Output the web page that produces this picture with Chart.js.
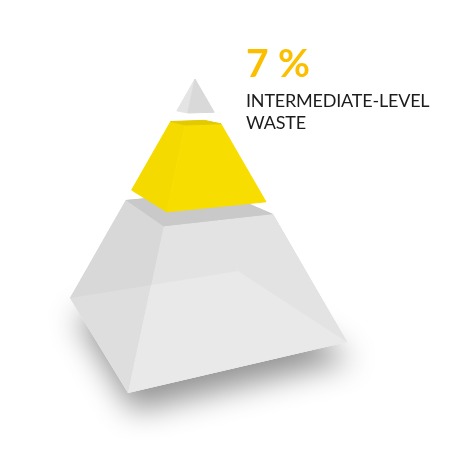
<!DOCTYPE html>
<html>
<head>
<meta charset="utf-8">
<script src="https://cdn.jsdelivr.net/npm/chart.js@4.4.1/dist/chart.umd.min.js"></script>
<style>
  body { margin: 0; background: #fff; }
  #wrap { position: relative; width: 454px; height: 454px; }
  #label { position: absolute; left: 246px; top: 39px; font-family: Lato, "Open Sans", sans-serif; }
  #value { color: #fbbf00; font-weight: 700; font-size: 39px; line-height: 46px; }
  #name { color: #1c1c1c; font-size: 18px; line-height: 22px; margin-top: 4px; letter-spacing: -0.2px; }
</style>
</head>
<body>
<div id="wrap">
  <canvas id="pyramid" width="454" height="454"></canvas>
  <div id="label"><div id="value"></div><div id="name"></div></div>
</div>
<script>
// Layers of the pyramid, top to bottom
const layerNames = ['High-level waste', 'Intermediate-level waste', 'Low-level waste'];
const layerStart = [0, 0.172, 0.516];   // share of pyramid height, measured from apex
const layerEnd = [0.128, 0.47, 1];

// Highlighted layer and its caption
const shownLayer = 1;
const shownValue = 7;
const shownLines = ['INTERMEDIATE-LEVEL', 'WASTE'];

// Camera view of the solid (chart units), w = depth for perspective
const apex = { x: 195, y: 79, w: 1 };
const corner = {
  L: { x: 70, y: 298, w: 1.16 },
  F: { x: 128, y: 393, w: 0.827 },
  R: { x: 347, y: 342, w: 0.988 },
  B: { x: 238, y: 271, w: 1.32 }
};

// Face colours per layer
const faceColors = [
  { left: '#e4e4e4', right: '#d9d9d9', top: '#d0d0d0' },
  { left: '#f5da00', right: '#f8de00', top: '#e3ca00' },
  { left: 'rgba(218,218,218,0.84)', right: 'rgba(231,231,231,0.84)', top: '#c9c9c9',
    back: '#cdcdcd', floor: '#efefef' }
];

// point on the edge apex -> corner at height share t
function at(name, t) {
  const c = corner[name];
  const s = t * c.w / ((1 - t) * apex.w + t * c.w);
  return { x: apex.x + s * (c.x - apex.x), y: apex.y + s * (c.y - apex.y) };
}

function face(names, t0, t1) {
  // lower rim first, then back along the upper rim
  const pts = [];
  names.forEach(n => pts.push(at(n, t1)));
  names.slice().reverse().forEach(n => pts.push(at(n, t0)));
  pts.push(pts[0]);
  return pts;
}

function rim(t) {
  const pts = ['L', 'F', 'R', 'B'].map(n => at(n, t));
  pts.push(pts[0]);
  return pts;
}

const datasets = [];
function addFace(label, data, color, seam) {
  datasets.push({
    label: label,
    data: data,
    showLine: true,
    fill: 'shape',
    backgroundColor: color,
    borderColor: color,
    borderWidth: seam ? 1 : 0,
    pointRadius: 0,
    tension: 0
  });
}

// build from the bottom layer up, so upper layers are drawn last
for (let i = layerNames.length - 1; i >= 0; i--) {
  const t0 = layerStart[i];
  const t1 = layerEnd[i];
  const col = faceColors[i];
  if (col.floor) {
    addFace(layerNames[i] + ' floor', rim(t1), col.floor, false);
    addFace(layerNames[i] + ' back', face(['L', 'B'], t0, t1), col.back, false);
    addFace(layerNames[i] + ' back', face(['B', 'R'], t0, t1), col.back, false);
  }
  const opaque = !col.floor;
  addFace(layerNames[i], face(['L', 'F'], t0, t1), col.left, opaque);
  addFace(layerNames[i], face(['F', 'R'], t0, t1), col.right, opaque);
  if (t0 > 0) addFace(layerNames[i] + ' top', rim(t0), col.top, opaque);
}
// later faces on top
datasets.forEach((d, i) => { d.order = datasets.length - i; });

// soft shadow under the base
const shadowPlugin = {
  id: 'shadow',
  beforeDatasetsDraw(chart) {
    const ctx = chart.ctx;
    const xs = chart.scales.x, ys = chart.scales.y;
    const base = rim(layerEnd[layerEnd.length - 1]);
    ctx.save();
    ctx.shadowColor = 'rgba(0,0,0,0.42)';
    ctx.shadowBlur = 30;
    ctx.shadowOffsetX = 5;
    ctx.shadowOffsetY = 18;
    ctx.fillStyle = '#e6e6e6';
    ctx.beginPath();
    base.forEach((p, k) => {
      const px = xs.getPixelForValue(p.x), py = ys.getPixelForValue(p.y);
      if (k === 0) ctx.moveTo(px, py); else ctx.lineTo(px, py);
    });
    ctx.closePath();
    ctx.fill();
    ctx.restore();
  }
};

const chart = new Chart(document.getElementById('pyramid'), {
  type: 'scatter',
  data: { datasets: datasets },
  options: {
    responsive: false,
    animation: false,
    events: [],
    layout: { padding: 0 },
    scales: {
      x: { type: 'linear', min: 0, max: 454, display: false },
      y: { type: 'linear', min: 0, max: 454, reverse: true, display: false }
    },
    plugins: {
      legend: { display: false },
      tooltip: { enabled: false }
    }
  },
  plugins: [shadowPlugin]
});

// caption for the highlighted layer
document.getElementById('value').textContent = shownValue + ' %';
document.getElementById('name').innerHTML = shownLines.join('<br>');
</script>
</body>
</html>
